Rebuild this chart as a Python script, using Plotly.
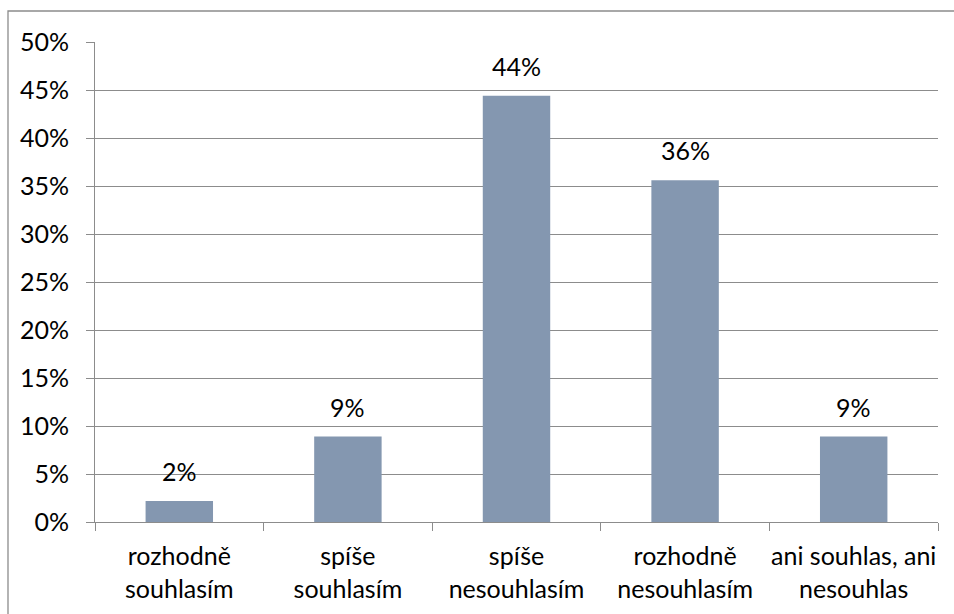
import plotly.graph_objects as go

categories = ["rozhodně<br>souhlasím", "spíše<br>souhlasím", "spíše<br>nesouhlasím",
              "rozhodně<br>nesouhlasím", "ani souhlas, ani<br>nesouhlas"]
values = [0.022, 0.089, 0.444, 0.356, 0.089]
labels = ["2%", "9%", "44%", "36%", "9%"]
y_ticks = [0, 0.05, 0.10, 0.15, 0.20, 0.25, 0.30, 0.35, 0.40, 0.45, 0.50]

FONT = "Lato"
FS = 25
GRID = "#8c8c8c"

fig = go.Figure()
fig.add_trace(go.Bar(
    x=categories, y=values,
    marker=dict(color="#8497B0", line=dict(width=0)),
    width=0.4,
    hoverinfo="skip",
))

for c, v, t in zip(categories, values, labels):
    fig.add_annotation(x=c, y=v, text=t, showarrow=False, yanchor="bottom",
                       yshift=13, font=dict(family=FONT, size=FS, color="#000000"))

W, H = 954, 614
ml, mr, mt, mb = 95, 16, 42, 92
pw, ph = W - ml - mr, H - mt - mb
fig.add_shape(type="rect", xref="paper", yref="paper",
              x0=(8 - ml) / pw, x1=(W + 20 - ml) / pw,
              y0=-(mb + 20) / ph, y1=(H - mb - 11) / ph,
              line=dict(color="#8c8c8c", width=1.3), fillcolor="rgba(0,0,0,0)", layer="below")

fig.update_layout(
    width=W, height=H,
    margin=dict(l=ml, r=mr, t=mt, b=mb, autoexpand=False),
    paper_bgcolor="white", plot_bgcolor="white",
    showlegend=False,
    font=dict(family=FONT, size=FS, color="#000000"),
    bargap=0.6,
)
fig.update_xaxes(
    type="category", showline=True, linecolor=GRID, linewidth=1,
    ticks="outside", tickson="boundaries", ticklen=8, tickcolor=GRID, tickwidth=1,
    showgrid=False, tickfont=dict(family=FONT, size=FS, color="#000000"),
    ticklabelstandoff=12, tickangle=0, automargin=False,
)
fig.update_yaxes(
    range=[0, 0.5], tickvals=y_ticks, tickformat=".0%",
    showline=True, linecolor=GRID, linewidth=1,
    ticks="outside", ticklen=8, tickcolor=GRID, tickwidth=1,
    showgrid=True, gridcolor=GRID, gridwidth=1, zeroline=False,
    tickfont=dict(family=FONT, size=FS, color="#000000"),
    ticklabelstandoff=12, automargin=False,
)

fig.write_html("out.html")
